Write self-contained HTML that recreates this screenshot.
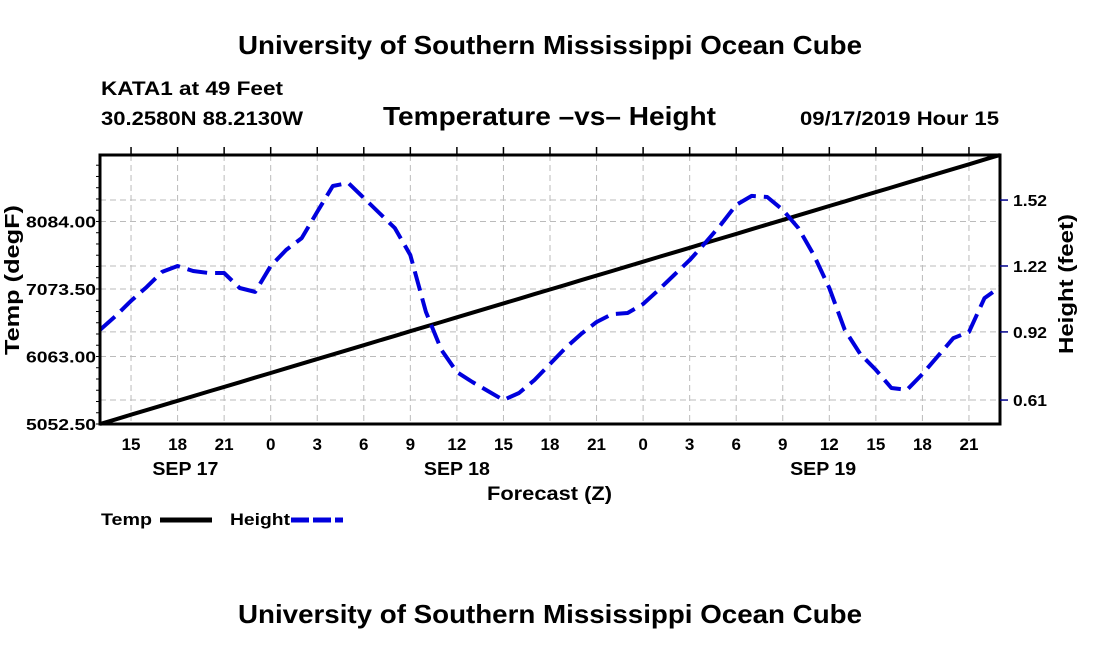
<!DOCTYPE html>
<html><head><meta charset="utf-8"><style>
html,body{margin:0;padding:0;background:#fff;}
svg{display:block;font-family:"Liberation Sans",Arial,sans-serif;font-weight:bold;}
</style></head><body>
<svg id="c" width="1100" height="650" viewBox="0 0 1100 650">
<text x="238" y="54" font-size="26" textLength="624" lengthAdjust="spacingAndGlyphs">University of Southern Mississippi Ocean Cube</text>
<text x="101" y="95" font-size="19" textLength="182" lengthAdjust="spacingAndGlyphs">KATA1 at 49 Feet</text>
<text x="101" y="125" font-size="19" textLength="202" lengthAdjust="spacingAndGlyphs">30.2580N 88.2130W</text>
<text x="383" y="125" font-size="26" textLength="333" lengthAdjust="spacingAndGlyphs">Temperature –vs– Height</text>
<text x="800" y="125" font-size="19" textLength="199" lengthAdjust="spacingAndGlyphs">09/17/2019 Hour 15</text>
<g id="grid"></g>
<g id="series"></g>
<rect x="100" y="155" width="900" height="269" fill="none" stroke="#000" stroke-width="3"/>
<g id="axes"></g>
<text x="487" y="500" font-size="19" textLength="125" lengthAdjust="spacingAndGlyphs">Forecast (Z)</text>
<text transform="translate(19,355) rotate(-90)" font-size="20" textLength="150" lengthAdjust="spacingAndGlyphs">Temp (degF)</text>
<text transform="translate(1073,354) rotate(-90)" font-size="20" textLength="140" lengthAdjust="spacingAndGlyphs">Height (feet)</text>
<g>
<text x="101" y="525" font-size="17" textLength="51" lengthAdjust="spacingAndGlyphs">Temp</text>
<line x1="160" y1="520" x2="212" y2="520" stroke="#000" stroke-width="5"/>
<text x="230" y="525" font-size="17" textLength="60" lengthAdjust="spacingAndGlyphs">Height</text>
<line x1="291" y1="520" x2="343" y2="520" stroke="#0000dd" stroke-width="5" stroke-dasharray="18,4"/>
</g>
<text x="238" y="623" font-size="26" textLength="624" lengthAdjust="spacingAndGlyphs">University of Southern Mississippi Ocean Cube</text>
</svg>
<script>
const startHour = 13;
const hoursCount = 58;
const tempValues = [5052.5,5121.9,5191.3,5260.8,5330.2,5399.6,5469.0,5538.4,5607.9,5677.3,5746.7,5816.1,5885.5,5955.0,6024.4,6093.8,6163.2,6232.6,6302.1,6371.5,6440.9,6510.3,6579.7,6649.2,6718.6,6788.0,6857.4,6926.8,6996.3,7065.7,7135.1,7204.5,7273.9,7343.4,7412.8,7482.2,7551.6,7621.0,7690.5,7759.9,7829.3,7898.7,7968.1,8037.6,8107.0,8176.4,8245.8,8315.2,8384.7,8454.1,8523.5,8592.9,8662.3,8731.8,8801.2,8870.6,8940.0,9009.4,9078.9];
const heightValues = [0.929,0.992,1.061,1.124,1.193,1.220,1.197,1.188,1.188,1.120,1.102,1.220,1.293,1.347,1.466,1.584,1.598,1.530,1.461,1.393,1.270,1.011,0.838,0.737,0.692,0.651,0.610,0.642,0.701,0.774,0.847,0.910,0.965,1.001,1.006,1.047,1.111,1.179,1.247,1.325,1.407,1.498,1.539,1.534,1.475,1.393,1.270,1.120,0.929,0.819,0.747,0.665,0.656,0.728,0.810,0.892,0.920,1.074,1.124];
const tempTicks = [5052.5,6063.0,7073.5,8084.0];
const tempTickLabels = ["5052.50","6063.00","7073.50","8084.00"];
const heightTicks = [0.61,0.92,1.22,1.52];
const heightTickLabels = ["0.61","0.92","1.22","1.52"];
const dayLabels = ["SEP 17","SEP 18","SEP 19"];
const dayLabelHours = [5.5,23,46.6];

const X0=100,X1=1000,Y0=424,Y1=155;
const tMin=5052.5,tMax=9079.0,hMin=0.501,hMax=1.725;
const xs=h=>X0+(h/hoursCount)*(X1-X0);
const yT=v=>Y0-(v-tMin)/(tMax-tMin)*(Y0-Y1);
const yH=v=>Y0-(v-hMin)/(hMax-hMin)*(Y0-Y1);
const NS="http://www.w3.org/2000/svg";
function mk(tag,attrs,parent,txt){const e=document.createElementNS(NS,tag);for(const k in attrs)e.setAttribute(k,attrs[k]);if(txt!==undefined)e.textContent=txt;parent.appendChild(e);return e;}
const grid=document.getElementById('grid'),axes=document.getElementById('axes'),series=document.getElementById('series');
for(let h=0;h<=hoursCount;h++){
  const hr=(startHour+h)%24;
  if(hr%3!==0)continue;
  const x=xs(h);
  const gl=mk('line',{x1:x,y1:Y1,x2:x,y2:Y0,stroke:'#bbb','stroke-width':1,'stroke-dasharray':'6,4'},grid);
  
  
  const tk=mk('line',{x1:x,y1:Y1-8,x2:x,y2:Y1,stroke:'#000','stroke-width':1.5},axes);
  
  
  const t=mk('text',{x:x,y:450,'text-anchor':'middle','font-size':17},axes,String(hr));
  
  
}
dayLabels.forEach((d,i)=>{
  const t=mk('text',{x:xs(dayLabelHours[i]),y:475,'text-anchor':'middle','font-size':18,textLength:66,lengthAdjust:'spacingAndGlyphs'},axes,d);
  
  
});
const hLines=[];
tempTicks.forEach(v=>hLines.push(yT(v)));
heightTicks.forEach(v=>hLines.push(yH(v)));
hLines.forEach(y=>{
  const gl=mk('line',{x1:X0,y1:y,x2:X1,y2:y,stroke:'#bbb','stroke-width':1,'stroke-dasharray':'6,4'},grid);
  
  
});
tempTicks.forEach((v,i)=>{
  const y=yT(v);
  const t=mk('text',{x:26,y:y+6,'font-size':16,textLength:70,lengthAdjust:'spacingAndGlyphs'},axes,tempTickLabels[i]);
  
  
});
for(let v=tMin;v<=tMax;v+=(tempTicks[1]-tempTicks[0])/6){
  const y=yT(v);
  const tk=mk('line',{x1:X0-4,y1:y,x2:X0,y2:y,stroke:'#000','stroke-width':1},axes);
  
  
}
heightTicks.forEach((v,i)=>{
  const y=yH(v);
  const tk=mk('line',{x1:X1,y1:y,x2:X1+8,y2:y,stroke:'#00008b','stroke-width':1.5},axes);
  
  
  const t=mk('text',{x:X1+13,y:y+6,'font-size':16,textLength:34,lengthAdjust:'spacingAndGlyphs'},axes,heightTickLabels[i]);
  
  
});
const tp=tempValues.map((v,i)=>xs(i).toFixed(1)+','+yT(v).toFixed(1)).join(' ');
const tl=mk('polyline',{points:tp,fill:'none',stroke:'#000','stroke-width':4},series);


const hp=heightValues.map((v,i)=>xs(i).toFixed(1)+','+yH(v).toFixed(1)).join(' ');
const hl=mk('polyline',{points:hp,fill:'none',stroke:'#0000dd','stroke-width':4,'stroke-dasharray':'20,8','stroke-linejoin':'round'},series);


</script>
</body></html>
